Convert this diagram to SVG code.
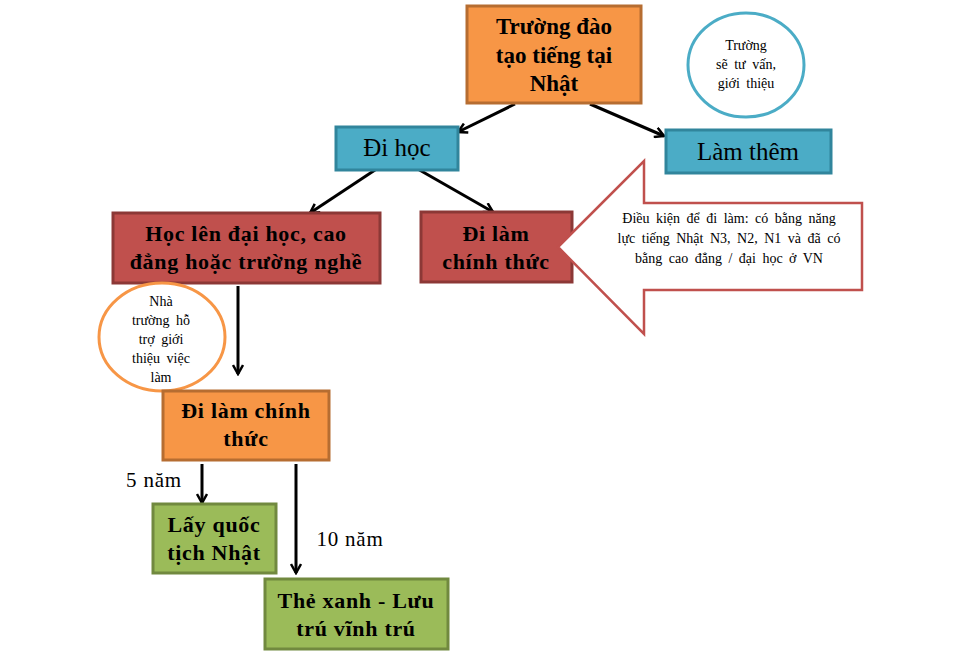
<svg xmlns="http://www.w3.org/2000/svg" width="960" height="668" viewBox="0 0 960 668">
<defs>
<marker id="ah" viewBox="0 0 12 12" refX="10" refY="6" markerWidth="12" markerHeight="12" markerUnits="userSpaceOnUse" orient="auto">
<polyline points="1,1 10,6 1,11" fill="none" stroke="#000" stroke-width="2.5"/>
</marker>
</defs>
<style>
.orange{fill:#F79646;stroke:#B66D31;stroke-width:3}
.teal{fill:#4BACC6;stroke:#31859C;stroke-width:3}
.red{fill:#C0504D;stroke:#8C3836;stroke-width:3}
.green{fill:#9BBB59;stroke:#71893F;stroke-width:3}
.b{font-family:"Liberation Serif","Times New Roman",serif;font-weight:bold;fill:#000;text-anchor:middle;font-size:22px;letter-spacing:0.7px}
.r{font-family:"Liberation Serif","Times New Roman",serif;fill:#000;text-anchor:middle}
.s{font-size:14px;word-spacing:3px}
.c{stroke:#000;stroke-width:3;fill:none;marker-end:url(#ah)}
</style>
<rect width="960" height="668" fill="#fff"/>
<g id="connectors">
<line class="c" x1="515" y1="104" x2="458" y2="132"/>
<line class="c" x1="590" y1="104" x2="664" y2="136"/>
<line class="c" x1="378" y1="168" x2="310" y2="213"/>
<line class="c" x1="416" y1="168" x2="493" y2="212"/>
<line class="c" x1="238" y1="286" x2="238" y2="374"/>
<line class="c" x1="202" y1="464" x2="202" y2="503"/>
<line class="c" x1="296" y1="464" x2="296" y2="573"/>
</g>
<g id="n-truong">
<rect class="orange" x="467" y="6" width="174" height="97"/>
<text class="b" style="font-size:23px;letter-spacing:0" x="554" y="34">Trường đào</text>
<text class="b" style="font-size:23px;letter-spacing:0" x="554" y="63">tạo tiếng tại</text>
<text class="b" style="font-size:23px;letter-spacing:0" x="554" y="91">Nhật</text>
</g>
<g id="n-tuvan">
<ellipse cx="746" cy="65" rx="58" ry="52" fill="#fff" stroke="#4BACC6" stroke-width="3"/>
<text class="r s" x="746" y="50">Trường</text>
<text class="r s" x="746" y="69">sẽ tư vấn,</text>
<text class="r s" x="746" y="88">giới thiệu</text>
</g>
<g id="n-lamthem">
<rect class="teal" x="666" y="130" width="165" height="43"/>
<text class="r" font-size="25" x="748" y="160">Làm thêm</text>
</g>
<g id="n-dihoc">
<rect class="teal" x="336" y="127" width="122" height="43"/>
<text class="r" font-size="25" x="397" y="156">Đi học</text>
</g>
<g id="n-hoclen">
<rect class="red" x="113" y="213" width="267" height="70"/>
<text class="b" x="246" y="241">Học lên đại học, cao</text>
<text class="b" x="246" y="269">đẳng hoặc trường nghề</text>
</g>
<g id="n-dilam1">
<rect class="red" x="421" y="212" width="151" height="70"/>
<text class="b" x="496" y="241">Đi làm</text>
<text class="b" x="496" y="269">chính thức</text>
</g>
<g id="n-dieukien">
<polygon points="558,247 644,161 644,203 862,203 862,290 644,290 644,334" fill="#fff" stroke="#C0504D" stroke-width="2.5"/>
<text class="r s" x="729" y="223">Điều kiện để đi làm: có bằng năng</text>
<text class="r s" x="729" y="243">lực tiếng Nhật N3, N2, N1 và đã có</text>
<text class="r s" x="729" y="263">bằng cao đẳng / đại học ở VN</text>
</g>
<g id="n-hotro">
<ellipse cx="162" cy="337" rx="63" ry="54" fill="#fff" stroke="#F79646" stroke-width="3"/>
<text class="r s" x="161" y="306">Nhà</text>
<text class="r s" x="161" y="325">trường hỗ</text>
<text class="r s" x="161" y="344">trợ giới</text>
<text class="r s" x="161" y="363">thiệu việc</text>
<text class="r s" x="161" y="382">làm</text>
</g>
<g id="n-dilam2">
<rect class="orange" x="163" y="391" width="166" height="69"/>
<text class="b" x="246" y="418">Đi làm chính</text>
<text class="b" x="246" y="446">thức</text>
</g>
<g id="n-quoctich">
<rect class="green" x="153" y="504" width="123" height="69"/>
<text class="b" x="214" y="532">Lấy quốc</text>
<text class="b" x="214" y="560">tịch Nhật</text>
</g>
<g id="n-thexanh">
<rect class="green" x="265" y="579" width="183" height="70"/>
<text class="b" x="356" y="608">Thẻ xanh - Lưu</text>
<text class="b" x="356" y="636">trú vĩnh trú</text>
</g>
<text class="r" font-size="21" letter-spacing="0.8" x="154" y="487">5 năm</text>
<text class="r" font-size="21" letter-spacing="0.8" x="350" y="546">10 năm</text>
</svg>
